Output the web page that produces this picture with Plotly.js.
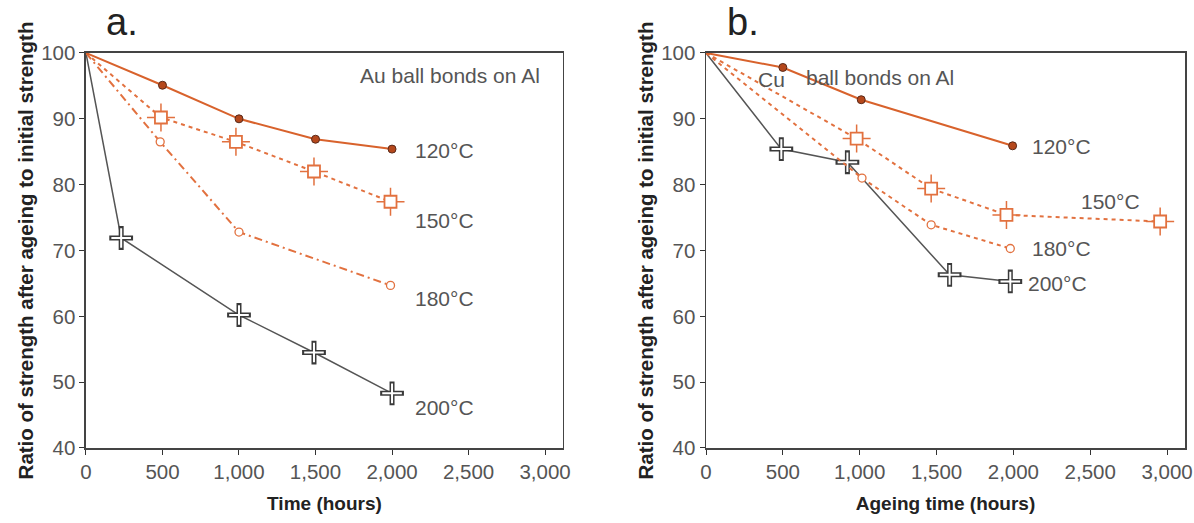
<!DOCTYPE html>
<html><head><meta charset="utf-8">
<script src="https://cdn.plot.ly/plotly-3.0.1.min.js"></script>
<style>html,body{margin:0;padding:0;background:#fff}#chart{width:1194px;height:523px}</style>
</head><body><div id="chart"></div>
<script>
// Panel a: Au ball bonds on Al
const a120x = [0, 500, 1000, 1500, 2000];
const a120y = [100, 95.1, 90.0, 86.9, 85.4];
const a150x = [0, 490, 980, 1490, 1990];
const a150y = [100, 90.2, 86.5, 82.0, 77.4];
const a180x = [0, 485, 1000, 1990];
const a180y = [100, 86.5, 72.8, 64.7];
const a200x = [0, 230, 1000, 1490, 2000];
const a200y = [100, 71.9, 60.2, 54.5, 48.3];
// Panel b: Cu ball bonds on Al
const b120x = [0, 500, 1010, 1995];
const b120y = [100, 97.8, 92.9, 85.9];
const b150x = [0, 980, 1465, 1955, 2955];
const b150y = [100, 87.0, 79.4, 75.4, 74.4];
const b180x = [0, 1015, 1465, 1980];
const b180y = [100, 81.0, 73.9, 70.3];
const b200x = [0, 490, 920, 1585, 1980];
const b200y = [100, 85.4, 83.4, 66.3, 65.3];
const xTicks = [0, 500, 1000, 1500, 2000, 2500, 3000];
const yTicks = [40, 50, 60, 70, 80, 90, 100];

const OR = '#e2713f', OR2 = '#d8622c', GR = '#555555';
const FF = 'Liberation Sans, Arial, sans-serif';

function series(x, y, xa, ya, kind) {
  const out = [];
  const base = {x: x, y: y, xaxis: xa, yaxis: ya, type: 'scatter', showlegend: false, hoverinfo: 'skip'};
  const mx = x.slice(1), my = y.slice(1);
  if (kind === '120') {
    out.push(Object.assign({}, base, {mode: 'lines', line: {color: OR2, width: 2}}));
    out.push(Object.assign({}, base, {x: mx, y: my, mode: 'markers',
      marker: {symbol: 'circle', size: 8, color: '#b5481c', line: {color: '#5a2a1a', width: 1}}}));
  } else if (kind === '150') {
    out.push(Object.assign({}, base, {mode: 'lines', line: {color: OR, width: 2, dash: '4px,4px'}}));
    out.push(Object.assign({}, base, {x: mx, y: my, mode: 'markers',
      marker: {symbol: 'cross-thin', size: 20, line: {color: OR, width: 1.5}}}));
    out.push(Object.assign({}, base, {x: mx, y: my, mode: 'markers',
      marker: {symbol: 'square', size: 12, color: '#ffffff', line: {color: OR, width: 1.8}}}));
  } else if (kind === '180a' || kind === '180b') {
    out.push(Object.assign({}, base, {mode: 'lines',
      line: {color: OR, width: 2, dash: kind === '180a' ? '8px,4px,2px,4px' : '4px,4px'}}));
    out.push(Object.assign({}, base, {x: mx, y: my, mode: 'markers',
      marker: {symbol: 'circle', size: 8, color: '#ffffff', line: {color: OR, width: 1.3}}}));
  } else {
    out.push(Object.assign({}, base, {mode: 'lines', line: {color: GR, width: 1.5}}));
    out.push(Object.assign({}, base, {x: mx, y: my, mode: 'markers',
      marker: {symbol: 'cross-thin', size: 17, line: {color: '#3a3a3a', width: 5}}}));
    out.push(Object.assign({}, base, {x: mx, y: my, mode: 'markers',
      marker: {symbol: 'cross-thin', size: 14, line: {color: '#ffffff', width: 2}}}));
  }
  return out;
}

const traces = [].concat(
  series(a200x, a200y, 'x', 'y', '200'),
  series(a180x, a180y, 'x', 'y', '180a'),
  series(a150x, a150y, 'x', 'y', '150'),
  series(a120x, a120y, 'x', 'y', '120'),
  series(b200x, b200y, 'x2', 'y2', '200'),
  series(b180x, b180y, 'x2', 'y2', '180b'),
  series(b150x, b150y, 'x2', 'y2', '150'),
  series(b120x, b120y, 'x2', 'y2', '120')
);

const tickFont = {family: FF, size: 20.5, color: '#555'};
function xaxis(dom, title, anchor) {
  return {domain: dom, anchor: anchor, range: [0, 3117], tickvals: xTicks,
    ticktext: xTicks.map(v => v.toLocaleString('en-US')), ticks: 'outside', ticklen: 5,
    tickcolor: '#333', showline: true, linecolor: '#444', linewidth: 1.5, mirror: true,
    showgrid: false, zeroline: false, tickfont: tickFont,
    title: {text: title, font: {family: FF, size: 19, color: '#222', weight: 'bold'}, standoff: 14}};
}
function yaxis(dom, anchor) {
  return {domain: dom, anchor: anchor, range: [40, 100], tickvals: yTicks, ticks: 'outside', ticklen: 5,
    tickcolor: '#333', showline: true, linecolor: '#444', linewidth: 1.5, mirror: true,
    showgrid: false, zeroline: false, tickfont: tickFont,
    title: {text: 'Ratio of strength after ageing to initial strength',
      font: {family: FF, size: 20.5, color: '#222', weight: 'bold'}, standoff: 2}};
}

const lab = {family: FF, size: 21, color: '#555'};
function ann(xref, yref, x, y, text, extra) {
  return Object.assign({xref: xref, yref: yref, x: x, y: y, text: text, showarrow: false,
    xanchor: 'left', yanchor: 'middle', font: lab}, extra || {});
}

const layout = {
  width: 1194, height: 523, margin: {l: 0, r: 0, t: 0, b: 0},
  paper_bgcolor: '#fff', plot_bgcolor: '#fff',
  xaxis: xaxis([0.072, 0.4715], 'Time (hours)', 'y'),
  yaxis: yaxis([0.1434, 0.8987], 'x'),
  xaxis2: xaxis([0.5913, 0.9925], 'Ageing time (hours)', 'y2'),
  yaxis2: yaxis([0.1434, 0.8987], 'x2'),
  annotations: [
    {xref: 'paper', yref: 'paper', x: 104/1194, y: 1 - 22/523, text: 'a.', showarrow: false,
      xanchor: 'left', yanchor: 'middle', font: {family: FF, size: 38, color: '#222'}},
    {xref: 'paper', yref: 'paper', x: 725/1194, y: 1 - 22/523, text: 'b.', showarrow: false,
      xanchor: 'left', yanchor: 'middle', font: {family: FF, size: 38, color: '#222'}},
    ann('x', 'y', 2980, 96.6, 'Au ball bonds on Al', {xanchor: 'right'}),
    ann('x', 'y', 2140, 85.2, '120°C'),
    ann('x', 'y', 2140, 74.6, '150°C'),
    ann('x', 'y', 2140, 62.7, '180°C'),
    ann('x', 'y', 2140, 46.2, '200°C'),
    ann('x2', 'y2', 325, 96.0, 'Cu'),
    ann('x2', 'y2', 640, 96.3, 'ball bonds on Al'),
    ann('x2', 'y2', 2110, 85.8, '120°C'),
    ann('x2', 'y2', 2430, 77.5, '150°C'),
    ann('x2', 'y2', 2110, 70.3, '180°C'),
    ann('x2', 'y2', 2080, 65.0, '200°C')
  ]
};

Plotly.newPlot('chart', traces, layout, {displayModeBar: false, staticPlot: true});
</script>
</body></html>
